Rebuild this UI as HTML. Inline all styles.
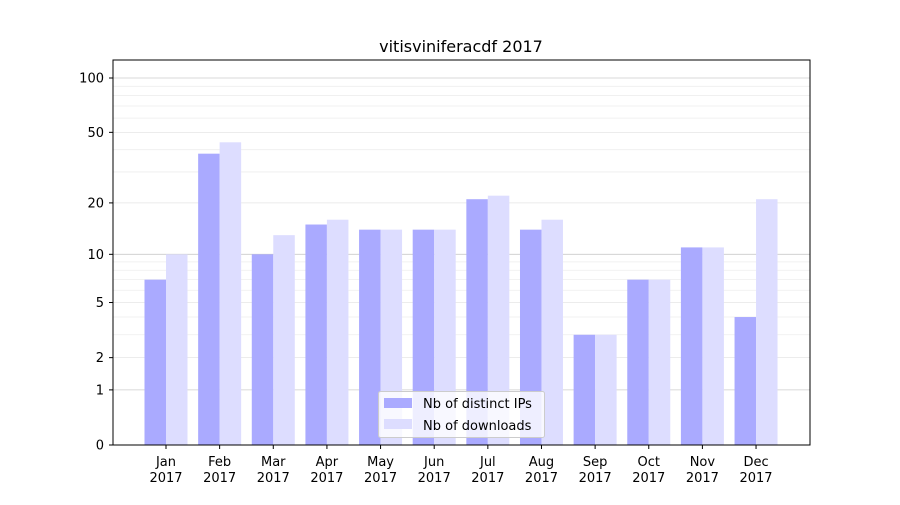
<!DOCTYPE html>
<html><head><meta charset="utf-8"><style>body{margin:0;background:#fff}</style></head>
<body>
<svg id="chart" width="900" height="500" xmlns="http://www.w3.org/2000/svg" font-family="DejaVu Sans, Liberation Sans, sans-serif">
<rect width="900" height="500" fill="#fff"/>
<text x="461" y="52" font-size="16" text-anchor="middle">vitisviniferacdf 2017</text>
<g id="grid"></g><g id="bars"></g><g id="axes"></g>
<rect x="113" y="60" width="697" height="385" fill="none" stroke="#000" stroke-width="1"/>
<g>
<rect x="378.5" y="391.5" width="166" height="46" fill="#fff" fill-opacity="0.8" stroke="#ccc" rx="2"/>
<rect x="384" y="398" width="28" height="10" fill="#aaaaff"/>
<text x="423" y="408" font-size="13">Nb of distinct IPs</text>
<rect x="384" y="419" width="28" height="10" fill="#ddddff"/>
<text x="423" y="430" font-size="13">Nb of downloads</text>
</g>
</svg>
<script>
const months=["Jan","Feb","Mar","Apr","May","Jun","Jul","Aug","Sep","Oct","Nov","Dec"];
const ips=[7,38,10,15,14,14,21,14,3,7,11,4];
const downloads=[10,44,13,16,14,14,22,16,3,7,11,21];
const yTicks=[0,1,2,5,10,20,50,100];
const NS="http://www.w3.org/2000/svg";
function y(v){return 445-183.1*Math.log10(1+v);}
function xc(i){return 166+i*53.64;}
const bw=21.5;
function mk(t,a,p){const e=document.createElementNS(NS,t);for(const k in a)e.setAttribute(k,a[k]);p.appendChild(e);return e;}
const grid=document.getElementById('grid'),bars=document.getElementById('bars'),axes=document.getElementById('axes');
for(const d of [1,10]){for(let m=2;m<=9;m++){const v=d*m;if(yTicks.includes(v))continue;
const l=mk('line',{x1:113,x2:810,y1:y(v),y2:y(v),stroke:'#eee','stroke-width':0.8},grid);

}}
yTicks.forEach(v=>{const major=[0,1,10,100].includes(v);
const l=mk('line',{x1:113,x2:810,y1:y(v),y2:y(v),stroke:major?'#ccc':'#e6e6e6','stroke-width':0.8},grid);


mk('line',{x1:109,x2:113,y1:y(v),y2:y(v),stroke:'#000'},axes);
const t=mk('text',{x:104,y:y(v)+4.5,'font-size':13,'text-anchor':'end'},axes);t.textContent=v;

});
months.forEach((m,i)=>{
const a=mk('rect',{x:xc(i)-bw,y:y(ips[i]),width:bw,height:445-y(ips[i]),fill:'#aaaaff'},bars);


const b=mk('rect',{x:xc(i),y:y(downloads[i]),width:bw,height:445-y(downloads[i]),fill:'#ddddff'},bars);


mk('line',{x1:xc(i),x2:xc(i),y1:445,y2:449,stroke:'#000'},axes);
const t=mk('text',{x:xc(i),y:466,'font-size':13,'text-anchor':'middle'},axes);


mk('tspan',{x:xc(i),dy:0},t).textContent=m;
mk('tspan',{x:xc(i),dy:16},t).textContent='2017';});
</script>
</body></html>
